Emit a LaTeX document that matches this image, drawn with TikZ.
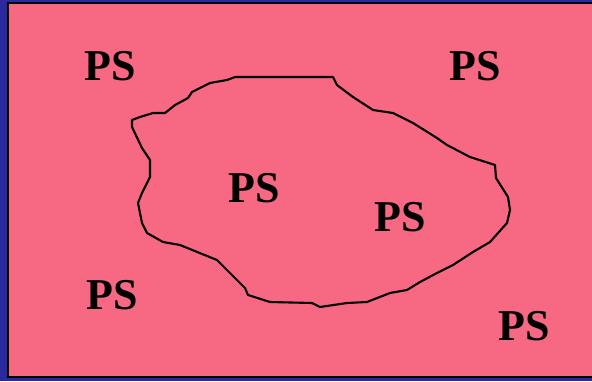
\documentclass[tikz,border=0pt]{standalone}
\usepackage{fontspec}
\setmainfont{Liberation Serif}
\definecolor{bgblue}{HTML}{2A2A9E}
\definecolor{pinkfill}{HTML}{F76882}
\begin{document}
\begin{tikzpicture}[x=1pt,y=-1pt,
  lbl/.style={font=\fontsize{44}{44}\selectfont\bfseries, inner sep=0pt, text=black},
  blob/.style={draw=black, line width=2.1pt, line join=round}]
\useasboundingbox (0,0) rectangle (592,381);
\fill[bgblue] (0,0) rectangle (592,381);
\path[fill=pinkfill, draw=black, line width=2pt] (8,2.5) rectangle (600,377);
\draw[blob] (235,77) -- (333,77) -- (337,85) -- (353,97) -- (373,110) -- (393,113) -- (413,123) -- (437,138) -- (447,145) -- (470,157) -- (495,165) -- (496,178) -- (508,197) -- (510,210) -- (507,223) -- (490,242) -- (473,252) -- (453,265) -- (437,273) -- (420,282) -- (407,290) -- (390,293) -- (367,302) -- (347,303) -- (320,307) -- (312,303) -- (270,302) -- (248,295) -- (245,288) -- (217,260) -- (212,258) -- (180,245) -- (163,242) -- (147,233) -- (142,223) -- (138,203) -- (142,193) -- (150,177) -- (150,160) -- (142,148) -- (132,127) -- (132,120) -- (140,117) -- (153,113) -- (165,113) -- (175,105) -- (188,98) -- (192,92) -- (210,83) -- (227,80) -- cycle;
\node[lbl] (ps1) at (110,66) {PS};
\node[lbl] (ps2) at (475,66) {PS};
\node[lbl] (ps3) at (254,188) {PS};
\node[lbl] (ps4) at (400,217) {PS};
\node[lbl] (ps5) at (112,295) {PS};
\node[lbl] (ps6) at (524,326) {PS};
\end{tikzpicture}
\end{document}
